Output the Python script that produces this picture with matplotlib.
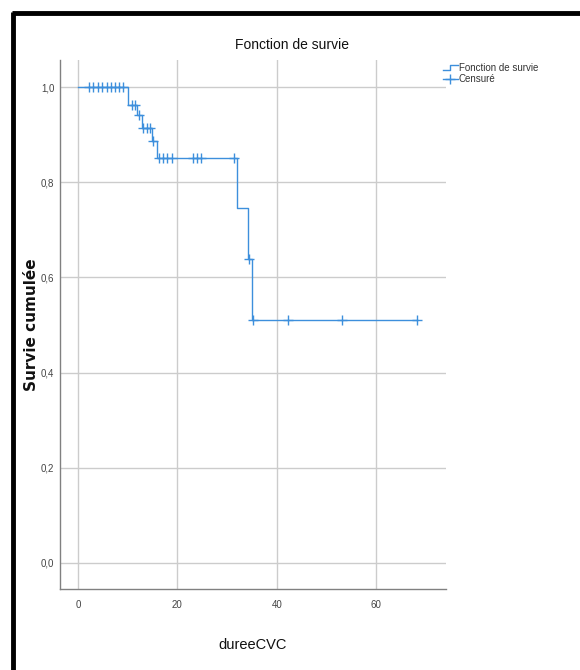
import matplotlib
matplotlib.use("Agg")
import matplotlib.pyplot as plt
from matplotlib.lines import Line2D
from matplotlib.legend_handler import HandlerBase
import numpy as np

# Data
event_times = [10.0, 11.8, 12.8, 14.8, 16.0, 32.0, 34.1, 35.0]
survival = [1.0, 0.962, 0.941, 0.915, 0.886, 0.85, 0.745, 0.639, 0.51]
censor_times = [2.2, 3.1, 4.0, 4.9, 5.8, 6.6, 7.5, 8.3, 9.1, 10.8, 11.5, 12.3,
                13.1, 13.9, 14.5, 15.1, 16.4, 17.2, 18.0, 18.9, 23.2, 24.0, 24.7,
                31.3, 34.3, 35.1, 42.2, 53.1, 68.1]
end_time = 68.1
x_ticks = [0, 20, 40, 60]
y_ticks = [0.0, 0.2, 0.4, 0.6, 0.8, 1.0]
y_tick_labels = ["0,0", "0,2", "0,4", "0,6", "0,8", "1,0"]

narrow = ["Liberation Sans", "DejaVu Sans"]
blue = "#3d8fdc"

fig = plt.figure(figsize=(5.8, 6.7), dpi=100)
ax = fig.add_axes([60 / 580, 1 - 589 / 670, (446 - 60) / 580, (589 - 60) / 670])

times = [0.0] + event_times + [end_time]
levels = survival + [survival[-1]]
step_line, = ax.step(times, levels, where="post", color=blue, lw=1.0, zorder=3)

def surv_at(t):
    s = survival[0]
    for et, sv in zip(event_times, survival[1:]):
        if t >= et:
            s = sv
    return s

cy = [surv_at(t) for t in censor_times]
ax.plot(censor_times, cy, ls="none", marker="+", ms=7, mew=1.0, color=blue, zorder=4)

ax.set_xlim(-3.6, 74)
ax.set_ylim(-0.055, 1.057)
ax.set_xticks(x_ticks)
ax.set_yticks(y_ticks)
ax.set_yticklabels(y_tick_labels)
ax.grid(True, color="#cccccc", lw=1.0)
ax.set_axisbelow(True)
for side in ["top", "right"]:
    ax.spines[side].set_visible(False)
for side in ["left", "bottom"]:
    ax.spines[side].set_color("#808080")
    ax.spines[side].set_linewidth(1.0)
ax.tick_params(axis="y", length=0, pad=4, labelsize=7, colors="#444444")
ax.tick_params(axis="x", length=0, pad=8, labelsize=7, colors="#444444")
for lab in ax.get_xticklabels() + ax.get_yticklabels():
    lab.set_family(narrow)

ax.set_xlabel("dureeCVC", family=narrow, fontsize=10.5, color="#111111")
ax.xaxis.set_label_coords(0.5, -(645 - 589) / (589 - 60))
ax.xaxis.label.set_va("center")
ax.set_ylabel("Survie cumulée", fontsize=11, fontweight="bold", color="#111111")
ax.yaxis.set_label_coords(-(60 - 32) / (446 - 60), 0.5)
ax.yaxis.label.set_va("center")

fig.text(292 / 580, 1 - 45 / 670, "Fonction de survie", family=narrow, fontsize=10,
         ha="center", va="center", color="#111111")


class StepHandler(HandlerBase):
    def create_artists(self, legend, orig_handle, xdescent, ydescent, width, height,
                       fontsize, trans):
        x0, x1 = -xdescent, -xdescent + width
        y0, y1 = -ydescent, -ydescent + height
        xm = x0 + width * 0.45
        xs = [x0, xm, xm, x1]
        ys = [y0 + height * 0.15, y0 + height * 0.15, y1 - height * 0.05, y1 - height * 0.05]
        ln = Line2D(xs, ys, color=blue, lw=1.0, transform=trans)
        return [ln]


censor_handle = Line2D([0], [0], color=blue, lw=1.0, marker="+", ms=7)
leg = fig.legend([step_line, censor_handle], ["Fonction de survie", "Censuré"],
                 loc="upper left", bbox_to_anchor=(443 / 580, 1 - 63 / 670), frameon=False,
                 prop={"family": narrow, "size": 7}, handlelength=1.5,
                 handletextpad=0.1, labelspacing=0.15, borderaxespad=0, borderpad=0,
                 handler_map={step_line: StepHandler()})
for t in leg.get_texts():
    t.set_color("#333333")

# Black frame lines (left and top)
fig.add_artist(Line2D([13 / 580, 13 / 580], [0, 1 - 12 / 670], transform=fig.transFigure,
                      color="black", lw=3.5, solid_capstyle="butt"))
fig.add_artist(Line2D([12 / 580, 1], [1 - 13 / 670, 1 - 13 / 670], transform=fig.transFigure,
                      color="black", lw=3.5, solid_capstyle="butt"))

fig.savefig("out.png", dpi=100, facecolor="white")
